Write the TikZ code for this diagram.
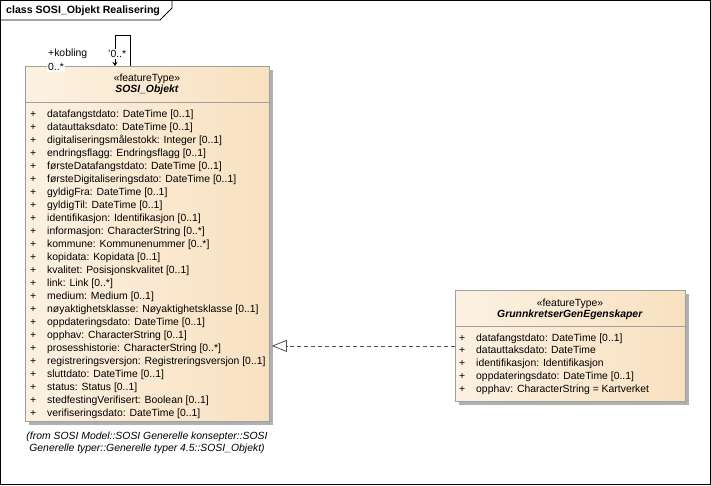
\documentclass[tikz,border=0pt]{standalone}
\usepackage{fontspec}
\setmainfont{Liberation Sans}
\usetikzlibrary{arrows.meta,shadows}
\definecolor{boxleft}{RGB}{252,241,226}
\definecolor{boxright}{RGB}{248,225,192}
\definecolor{boxline}{RGB}{160,160,160}
\definecolor{boxshadow}{RGB}{176,176,176}
\definecolor{linegray}{RGB}{80,80,80}
\begin{document}
\begin{tikzpicture}[x=1pt,y=-1pt,font=\fontsize{10.4}{11}\selectfont]
\tikzstyle{cls}=[draw=boxline, line width=0.8pt, left color=boxleft, right color=boxright, inner sep=0pt, anchor=north west, drop shadow={shadow xshift=4pt,shadow yshift=-4pt,fill=boxshadow,opacity=1}];
\tikzstyle{head}=[align=center, inner sep=0pt];
\tikzstyle{attrs}=[inner sep=0pt, anchor=base west];
\tikzstyle{lbl}=[inner sep=0pt, anchor=west];
\tikzstyle{real}=[draw=linegray, line width=0.8pt, dash pattern=on 4pt off 3pt, -{Triangle[open,length=15pt,width=12pt]}];
\tikzstyle{assoc}=[draw=black, line width=0.8pt, -{Stealth[length=4pt,width=5pt]}];
\useasboundingbox (0,0) rectangle (711,485);
\draw[line width=0.8pt] (0.5,0.5) rectangle (710.5,484.5);
\draw[line width=0.8pt] (0.5,20) -- (160,20) -- (172,8) -- (172,0.5);
\node[lbl, font=\bfseries\fontsize{10.6}{11}\selectfont] (t) at (6,11) {class SOSI\_Objekt Realisering};
% SOSI_Objekt
\node[cls, minimum width=244pt, minimum height=355pt] (v1) at (25,66) {};
\draw[boxline, line width=0.8pt] ([yshift=-36pt]v1.north west) -- ([yshift=-36pt]v1.north east);
\node[head] (h1) at (147,84.5) {«featureType»\\\textbf{\textit{SOSI\_Objekt}}};
\node[attrs, font=\fontsize{10.4}{13}\selectfont] (a1) at (30,117) {\begin{tabular}[t]{@{}p{17pt}@{}l@{}}
+ & datafangstdato: DateTime [0..1]\\
+ & datauttaksdato: DateTime [0..1]\\
+ & digitaliseringsmålestokk: Integer [0..1]\\
+ & endringsflagg: Endringsflagg [0..1]\\
+ & førsteDatafangstdato: DateTime [0..1]\\
+ & førsteDigitaliseringsdato: DateTime [0..1]\\
+ & gyldigFra: DateTime [0..1]\\
+ & gyldigTil: DateTime [0..1]\\
+ & identifikasjon: Identifikasjon [0..1]\\
+ & informasjon: CharacterString [0..*]\\
+ & kommune: Kommunenummer [0..*]\\
+ & kopidata: Kopidata [0..1]\\
+ & kvalitet: Posisjonskvalitet [0..1]\\
+ & link: Link [0..*]\\
+ & medium: Medium [0..1]\\
+ & nøyaktighetsklasse: Nøyaktighetsklasse [0..1]\\
+ & oppdateringsdato: DateTime [0..1]\\
+ & opphav: CharacterString [0..1]\\
+ & prosesshistorie: CharacterString [0..*]\\
+ & registreringsversjon: Registreringsversjon [0..1]\\
+ & sluttdato: DateTime [0..1]\\
+ & status: Status [0..1]\\
+ & stedfestingVerifisert: Boolean [0..1]\\
+ & verifiseringsdato: DateTime [0..1]
\end{tabular}};
\node[head, font=\itshape\fontsize{10.4}{12}\selectfont] (f1) at (147,443) {(from SOSI Model::SOSI Generelle konsepter::SOSI\\Generelle typer::Generelle typer 4.5::SOSI\_Objekt)};
% GrunnkretserGenEgenskaper
\node[cls, minimum width=230pt, minimum height=111pt] (v2) at (455,290) {};
\draw[boxline, line width=0.8pt] ([yshift=-36pt]v2.north west) -- ([yshift=-36pt]v2.north east);
\node[head] (h2) at (570,309) {«featureType»\\\textbf{\textit{GrunnkretserGenEgenskaper}}};
\node[attrs, font=\fontsize{10.4}{12.8}\selectfont] (a2) at (459,341) {\begin{tabular}[t]{@{}p{17pt}@{}l@{}}
+ & datafangstdato: DateTime [0..1]\\
+ & datauttaksdato: DateTime\\
+ & identifikasjon: Identifikasjon\\
+ & oppdateringsdato: DateTime [0..1]\\
+ & opphav: CharacterString = Kartverket
\end{tabular}};
% kobling
\draw[assoc] ([xshift=105pt]v1.north west) -- ++(0,-31) -- ++(-15,0) -- ([xshift=90pt]v1.north west);
\node[lbl] (k1) at (48,54) {+kobling};
\node[lbl, fill=white, inner sep=1pt] (k2) at (47,67) {0..*};
\node[lbl, fill=white, inner sep=1pt] (k3) at (107,54) {'0..*};
% realisering
\draw[real] (v2.west) -- ([xshift=2pt]v2.west -| v1.east);
\end{tikzpicture}
\end{document}
